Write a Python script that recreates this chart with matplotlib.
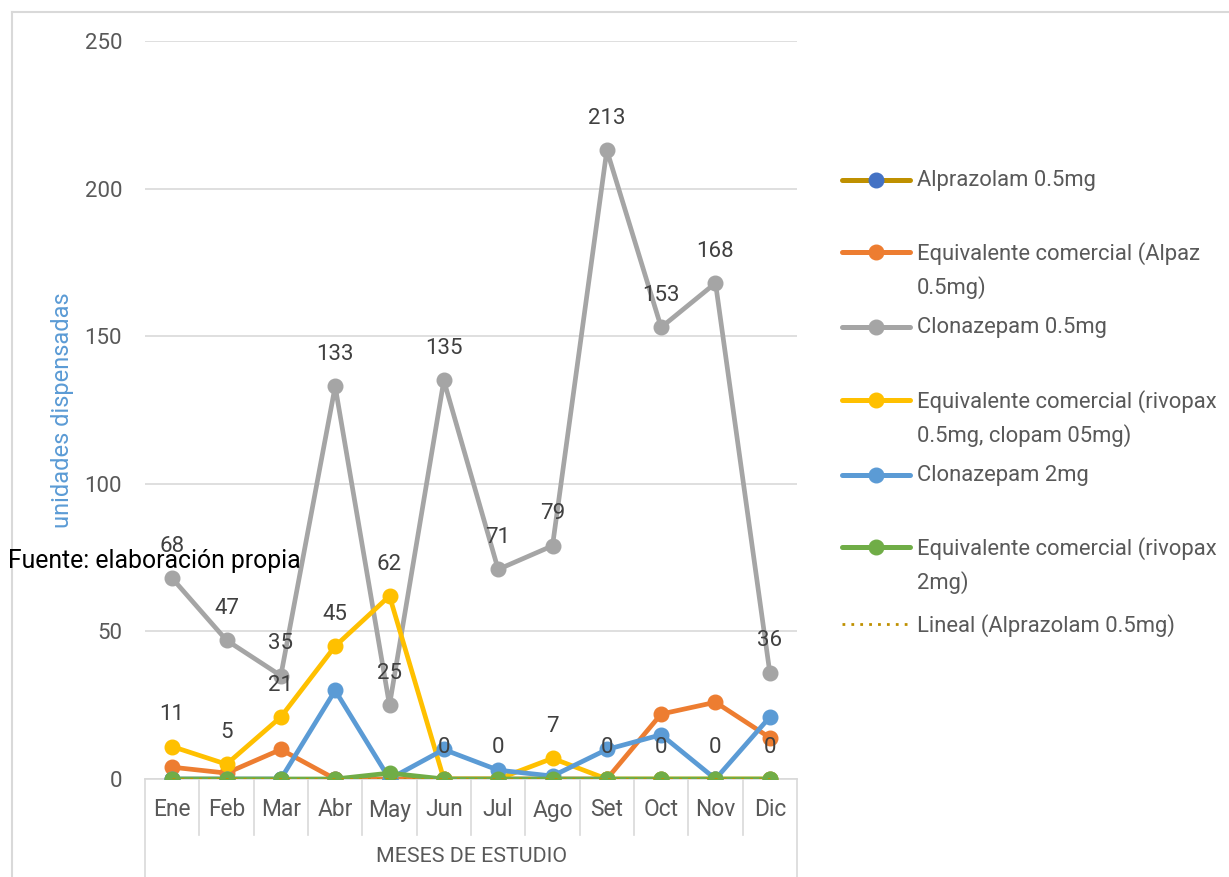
import matplotlib.pyplot as plt
import numpy as np
from matplotlib.lines import Line2D

plt.rcParams['font.family'] = ['Roboto', 'DejaVu Sans']

meses = ['Ene', 'Feb', 'Mar', 'Abr', 'May', 'Jun', 'Jul', 'Ago', 'Set', 'Oct', 'Nov', 'Dic']

alprazolam_05 = [0, 0, 0, 0, 0, 0, 0, 0, 0, 0, 0, 0]
alpaz_05 = [4, 2, 10, 0, 0, 0, 0, 0, 0, 22, 26, 14]
clonazepam_05 = [68, 47, 35, 133, 25, 135, 71, 79, 213, 153, 168, 36]
rivopax_05 = [11, 5, 21, 45, 62, 0, 0, 7, 0, 0, 0, 0]
clonazepam_2 = [0, 0, 0, 30, 0, 10, 3, 1, 10, 15, 0, 21]
rivopax_2 = [0, 0, 0, 0, 2, 0, 0, 0, 0, 0, 0, 0]

series = [
    ('Alprazolam 0.5mg', alprazolam_05, '#BF9000', '#4472C4'),
    ('Equivalente comercial (Alpaz\n0.5mg)', alpaz_05, '#ED7D31', '#ED7D31'),
    ('Clonazepam 0.5mg', clonazepam_05, '#A5A5A5', '#A5A5A5'),
    ('Equivalente comercial (rivopax\n0.5mg, clopam 05mg)', rivopax_05, '#FFC000', '#FFC000'),
    ('Clonazepam 2mg', clonazepam_2, '#5B9BD5', '#5B9BD5'),
    ('Equivalente comercial (rivopax\n2mg)', rivopax_2, '#70AD47', '#70AD47'),
]

W, H = 1229, 877
fig = plt.figure(figsize=(W / 100, H / 100), dpi=100)
ax = fig.add_axes([145 / W, 98 / H, 652 / W, 738 / H])

x = np.arange(len(meses))
for name, vals, lc, mc in series:
    ax.plot(x, vals, color=lc, lw=3.4, marker='o', ms=10.5, mfc=mc, mec=mc, zorder=3,
            solid_capstyle='round', solid_joinstyle='round')

# tendencia lineal de Alprazolam 0.5mg
coef = np.polyfit(x, alprazolam_05, 1)
ax.plot(x, np.polyval(coef, x), color='#BF9000', lw=2, ls=(0, (1, 2.2)), zorder=4)

# etiquetas de datos
for vals in (clonazepam_05, rivopax_05):
    for xi, v in zip(x, vals):
        ax.annotate(str(v), (xi, v), xytext=(0, 23), textcoords='offset points',
                    ha='center', va='center', fontsize=16, color='#404040', zorder=5)

ax.set_xlim(-0.5, 11.5)
ax.set_ylim(0, 250)
ax.set_yticks([0, 50, 100, 150, 200, 250])
ax.yaxis.grid(True, color='#D9D9D9', lw=1.2)
ax.set_axisbelow(True)
for s in ('top', 'right', 'left'):
    ax.spines[s].set_visible(False)
ax.spines['bottom'].set_color('#D9D9D9')
ax.spines['bottom'].set_linewidth(1.2)
ax.tick_params(axis='y', length=0, pad=16.5, labelsize=16, labelcolor='#595959')
ax.set_xticks([])

# cuadricula del eje de categorias
tr = ax.get_xaxis_transform()
y_in = -(835 - 779) / 738
y_out = -(877 - 779) / 738
for k in range(13):
    bottom = y_out if k in (0, 12) else y_in
    ax.plot([k - 0.5, k - 0.5], [0, bottom], transform=tr, color='#D9D9D9',
            lw=1.2, clip_on=False)
for xi, m in zip(x, meses):
    ax.text(xi, -(810 - 779) / 738, m, transform=tr, ha='center', va='center',
            fontsize=16.4, color='#595959')
ax.text(5.5, -(857 - 779) / 738, 'MESES DE ESTUDIO', transform=tr, ha='center',
        va='center', fontsize=15.4, color='#595959')

fig.text(62 / W, 1 - 410 / H, 'unidades dispensadas', rotation=90, ha='center',
         va='center', fontsize=17, color='#5B9BD5')
fig.text(8 / W, 1 - 561 / H, 'Fuente: elaboración propia', ha='left', va='center',
         fontsize=17.8, color='black', zorder=10)

# leyenda
handles_y = [180, 252, 327, 400, 475, 547, 624]
for (name, vals, lc, mc), yy in zip(series, handles_y):
    fy = 1 - yy / H
    fig.add_artist(Line2D([842 / W, 910 / W], [fy, fy], color=lc, lw=3.6,
                          solid_capstyle='round'))
    fig.add_artist(Line2D([876 / W], [fy], marker='o', ms=10.5, mfc=mc, mec=mc))
    fig.text(917 / W, fy + 10 / H, name, ha='left', va='top', fontsize=15.8,
             color='#595959', linespacing=1.6)
fy = 1 - handles_y[-1] / H
fig.add_artist(Line2D([842 / W, 910 / W], [fy, fy], color='#BF9000', lw=2,
                      ls=(0, (1, 2.2))))
fig.text(917 / W, fy + 10 / H, 'Lineal (Alprazolam 0.5mg)', ha='left', va='top',
         fontsize=15.8, color='#595959')

# borde del grafico
fig.add_artist(Line2D([12 / W, 12 / W], [0, 1 - 12 / H], color='#D9D9D9', lw=1.5))
fig.add_artist(Line2D([12 / W, 1], [1 - 12 / H, 1 - 12 / H], color='#D9D9D9', lw=1.5))

fig.savefig('out.png', dpi=100)
